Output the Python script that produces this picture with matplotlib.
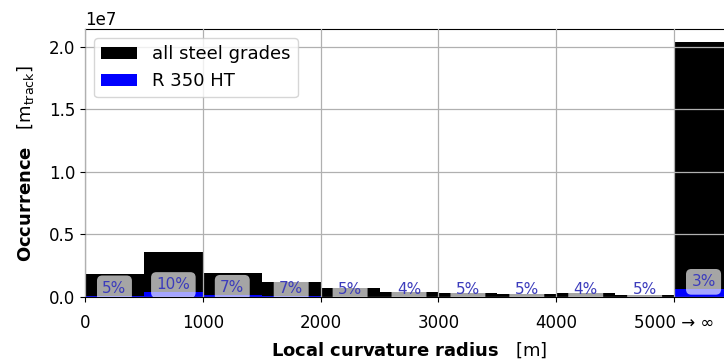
import matplotlib
matplotlib.use("Agg")
import matplotlib.pyplot as plt
import numpy as np

# Curvature radius bins (left edges, metres); last bin is 5000 -> infinity
bin_starts = [0, 500, 1000, 1500, 2000, 2500, 3000, 3500, 4000, 4500, 5000]
bin_width = 500

# Track length per bin for all steel grades [m_track]
all_grades = [1.85e6, 3.60e6, 1.95e6, 1.20e6, 0.74e6, 0.42e6, 0.32e6,
              0.22e6, 0.35e6, 0.15e6, 2.04e7]

# Share of R 350 HT in each bin [%]
r350_share = [5, 10, 7, 7, 5, 4, 5, 5, 4, 5, 3]

tick_values = [0, 1000, 2000, 3000, 4000, 5000]
tick_labels = ["0", "1000", "2000", "3000", "4000", "5000 \u2192 \u221e"]

all_arr = np.array(all_grades)
share_arr = np.array(r350_share)
r350 = all_arr * share_arr / 100.0
starts = np.array(bin_starts)

fig = plt.figure(figsize=(7.24, 3.59), dpi=100)
ax = fig.add_axes([85 / 724, 62 / 359, (733 - 85) / 724, 268 / 359])

ax.bar(starts, all_arr, width=bin_width, align="edge", color="black",
       label="all steel grades")
ax.bar(starts, r350, width=bin_width, align="edge", color="blue",
       label="R 350 HT")

for x0, h, p in zip(starts, r350, share_arr):
    ax.text(x0 + bin_width / 2, h, f"{p}%", ha="center", va="bottom",
            fontsize=11, color="#3c3cbc", clip_on=True,
            bbox=dict(boxstyle="round,pad=0.35", fc="white", ec="none",
                      alpha=0.65))

ax.set_xlim(0, 5500)
ax.set_xticks(tick_values)
ax.set_xticklabels(tick_labels)
ax.tick_params(labelsize=12)
ax.tick_params(axis="x", pad=9)
ax.yaxis.get_offset_text().set_fontsize(12)

ax.set_axisbelow(False)
ax.grid(True, color="#b0b0b0", linewidth=0.9)

ax.set_xlabel(r"$\bf{Local\ curvature\ radius}$   [m]", fontsize=13,
              labelpad=5.5)
ax.set_ylabel(r"$\bf{Occurrence}$   [m$_{\mathrm{track}}$]", fontsize=13,
              labelpad=9)

ax.legend(loc="upper left", fontsize=13)

fig.savefig("out.png", dpi=100)
